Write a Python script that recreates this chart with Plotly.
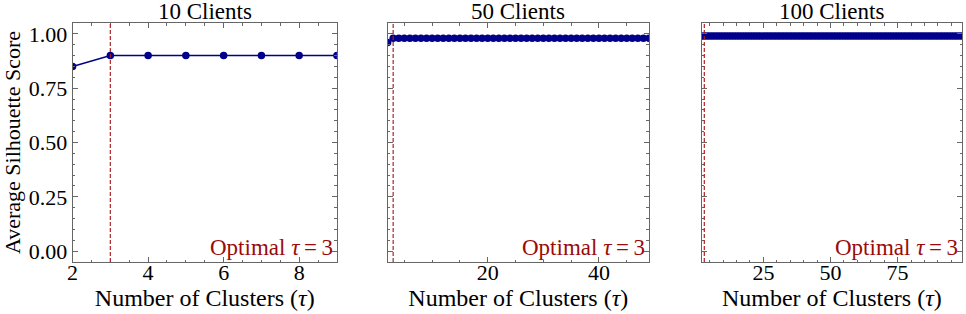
import plotly.graph_objects as go

# ---- data ----
tau_10 = [2, 3, 4, 5, 6, 7, 8, 9]
score_10 = [0.85, 0.90, 0.90, 0.90, 0.90, 0.90, 0.90, 0.90]

tau_50 = list(range(2, 50))
score_50 = [0.96, 0.98, 0.98, 0.98, 0.98, 0.98, 0.98, 0.98, 0.98, 0.98,
            0.98, 0.98, 0.98, 0.98, 0.98, 0.98, 0.98, 0.98, 0.98, 0.98,
            0.98, 0.98, 0.98, 0.98, 0.98, 0.98, 0.98, 0.98, 0.98, 0.98,
            0.98, 0.98, 0.98, 0.98, 0.98, 0.98, 0.98, 0.98, 0.98, 0.98,
            0.98, 0.98, 0.98, 0.98, 0.98, 0.98, 0.98, 0.98]

tau_100 = list(range(2, 100))
score_100 = [0.99, 0.99, 0.99, 0.99, 0.99, 0.99, 0.99, 0.99, 0.99, 0.99,
             0.99, 0.99, 0.99, 0.99, 0.99, 0.99, 0.99, 0.99, 0.99, 0.99,
             0.99, 0.99, 0.99, 0.99, 0.99, 0.99, 0.99, 0.99, 0.99, 0.99,
             0.99, 0.99, 0.99, 0.99, 0.99, 0.99, 0.99, 0.99, 0.99, 0.99,
             0.99, 0.99, 0.99, 0.99, 0.99, 0.99, 0.99, 0.99, 0.99, 0.99,
             0.99, 0.99, 0.99, 0.99, 0.99, 0.99, 0.99, 0.99, 0.99, 0.99,
             0.99, 0.99, 0.99, 0.99, 0.99, 0.99, 0.99, 0.99, 0.99, 0.99,
             0.99, 0.99, 0.99, 0.99, 0.99, 0.99, 0.99, 0.99, 0.99, 0.99,
             0.99, 0.99, 0.99, 0.99, 0.99, 0.99, 0.99, 0.99, 0.99, 0.99,
             0.99, 0.99, 0.99, 0.99, 0.99, 0.99, 0.99, 0.99]

titles = ["10 Clients", "50 Clients", "100 Clients"]
optimal_tau = [3, 3, 3]
y_ticks = [0.0, 0.25, 0.5, 0.75, 1.0]

panels = [(tau_10, score_10), (tau_50, score_50), (tau_100, score_100)]
x_major = [2, 20, 25]
x_minor = [0.5, 5, 5]
domains = [[67 / 966, 333 / 966], [384 / 966, 647 / 966], [700 / 966, 962 / 966]]

FONT = "Liberation Serif"
BLUE = "#00008B"
RED = "#9B0A0A"
FRAME = "#666666"

fig = go.Figure()
for i, (xs, ys) in enumerate(panels):
    sfx = "" if i == 0 else str(i + 1)
    fig.add_trace(go.Scatter(
        x=xs, y=ys, mode="lines+markers",
        line=dict(color=BLUE, width=1.5),
        marker=dict(color=BLUE, size=7.5),
        xaxis="x" + sfx, yaxis="y" + sfx, showlegend=False, cliponaxis=True,
    ))
    fig.layout["xaxis" + sfx] = dict(
        domain=domains[i], range=[xs[0], xs[-1]], anchor="y" + sfx,
        dtick=x_major[i], tick0=0, ticks="inside", ticklen=5, tickwidth=1,
        tickcolor=FRAME, showline=True, linecolor=FRAME, linewidth=1,
        mirror="allticks", showgrid=False, zeroline=False,
        minor=dict(dtick=x_minor[i], tick0=0, ticks="inside", ticklen=2.5,
                   tickcolor=FRAME, showgrid=False),
        ticklabelstandoff=-9,
        tickfont=dict(family=FONT, size=22, color="black"),
        title=dict(text="Number of Clusters (<i>τ</i>)",
                   font=dict(family=FONT, size=24, color="black"), standoff=1),
    )
    fig.layout["yaxis" + sfx] = dict(
        domain=[0, 1], range=[-0.05, 1.05], anchor="x" + sfx,
        tickvals=y_ticks, tickformat=".2f", showticklabels=(i == 0),
        ticks="inside", ticklen=5, tickwidth=1, tickcolor=FRAME,
        showline=True, linecolor=FRAME, linewidth=1, mirror="allticks",
        showgrid=False, zeroline=False,
        minor=dict(dtick=0.05, tick0=0, ticks="inside", ticklen=2.5,
                   tickcolor=FRAME, showgrid=False),
        tickfont=dict(family=FONT, size=22, color="black"),
        title=dict(text="Average Silhouette Score" if i == 0 else "",
                   font=dict(family=FONT, size=22, color="black"), standoff=6),
    )
    fig.add_shape(type="line", xref="x" + sfx, yref="y" + sfx + " domain",
                  x0=optimal_tau[i], x1=optimal_tau[i], y0=0, y1=1,
                  line=dict(color="rgba(170,30,30,0.9)", width=1.3, dash="4px,2px"),
                  layer="above")
    fig.add_annotation(xref="x" + sfx + " domain", yref="y" + sfx + " domain",
                       x=0.993, y=0.0, xanchor="right", yanchor="bottom",
                       text=f"Optimal <i>τ</i>\u2009=\u2009{optimal_tau[i]}", showarrow=False,
                       font=dict(family=FONT, size=23, color=RED))
    fig.add_annotation(xref="x" + sfx + " domain", yref="paper",
                       x=0.5, y=1.0, xanchor="center", yanchor="bottom",
                       text=titles[i], showarrow=False,
                       font=dict(family=FONT, size=23, color="black"), yshift=-3)

fig.update_layout(
    width=966, height=314,
    margin=dict(l=0, r=0, t=23, b=52),
    paper_bgcolor="white", plot_bgcolor="white",
    font=dict(family=FONT, size=22, color="black"),
)

fig.write_html(
    "out.html",
    config={"displayModeBar": False},
    post_script="document.body.style.margin='0';document.body.style.overflow='hidden';",
)
